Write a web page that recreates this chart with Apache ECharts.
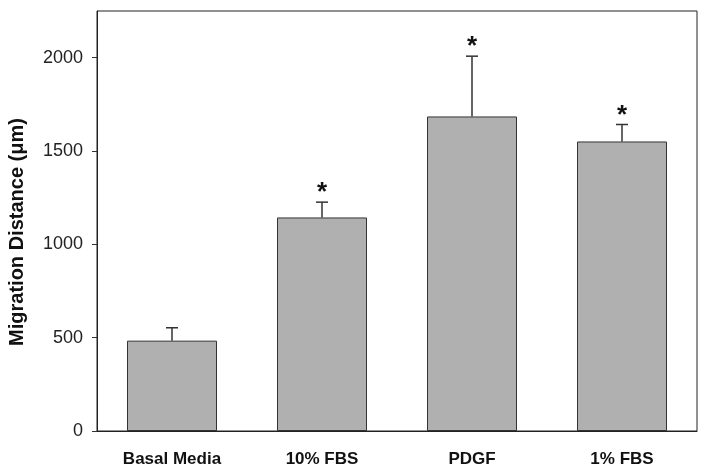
<!DOCTYPE html>
<html><head><meta charset="utf-8">
<script src="https://cdn.jsdelivr.net/npm/echarts@6/dist/echarts.min.js"></script>
<style>html,body{margin:0;padding:0;background:#fff}#c{width:703px;height:472px}</style>
</head><body><div id="c"></div>
<script>
var categories = ['Basal Media', '10% FBS', 'PDGF', '1% FBS'];
var means = [484, 1144, 1685, 1551];
var upperErr = [553, 1226, 2008, 1642];
var significant = [false, true, true, true];
var yTicks = [0, 500, 1000, 1500, 2000];
var yTitle = 'Migration Distance (\u03bcm)';

var chart = echarts.init(document.getElementById('c'));
var errData = categories.map(function (c, i) { return [i, means[i], upperErr[i], significant[i] ? 1 : 0]; });
chart.setOption({
  animation: false,
  grid: { left: 97, right: 6, top: 11, bottom: 41, show: true, borderColor: '#222', borderWidth: 1 },
  graphic: [{
    type: 'text', x: 17, y: 232, rotation: Math.PI / 2,
    style: { text: yTitle, textAlign: 'center', textVerticalAlign: 'middle', fill: '#111', font: 'bold 20px Liberation Sans, Arial' }
  }],
  xAxis: {
    type: 'category', data: categories,
    axisLine: { lineStyle: { color: '#222', width: 1 } },
    axisTick: { alignWithLabel: true, length: 5, lineStyle: { color: '#333' } },
    axisLabel: { color: '#111', fontFamily: 'Liberation Sans, Arial', fontWeight: 'bold', fontSize: 17, margin: 20 }
  },
  yAxis: {
    type: 'value', min: 0, max: 2250, interval: 500,
    axisLine: { show: true, lineStyle: { color: '#222', width: 1 } },
    axisTick: { show: true, length: 5, lineStyle: { color: '#333' } },
    splitLine: { show: false },
    axisLabel: { color: '#222', fontFamily: 'Liberation Sans, Arial', fontSize: 18, margin: 14, showMaxLabel: false,
      formatter: function (v) { return yTicks.indexOf(v) >= 0 ? String(v) : ''; } }
  },
  series: [
    {
      type: 'bar', data: means, barWidth: '60%',
      itemStyle: { color: '#b0b0b0', borderColor: '#333', borderWidth: 1 }
    },
    {
      type: 'custom', data: errData, z: 5,
      renderItem: function (params, api) {
        var x = api.value(0);
        var top = api.coord([x, api.value(1)]);
        var hi = api.coord([x, api.value(2)]);
        var children = [
          { type: 'line', shape: { x1: top[0], y1: top[1], x2: hi[0], y2: hi[1] }, style: { stroke: '#333', lineWidth: 1.5 } },
          { type: 'line', shape: { x1: hi[0] - 6, y1: hi[1], x2: hi[0] + 6, y2: hi[1] }, style: { stroke: '#333', lineWidth: 1.5 } }
        ];
        if (api.value(3)) {
          children.push({ type: 'text', style: { text: '*', x: hi[0], y: hi[1] - 9, textAlign: 'center', textVerticalAlign: 'middle', fill: '#111', font: 'bold 26px Liberation Sans, Arial' } });
        }
        return { type: 'group', children: children };
      }
    }
  ]
});
</script></body></html>
